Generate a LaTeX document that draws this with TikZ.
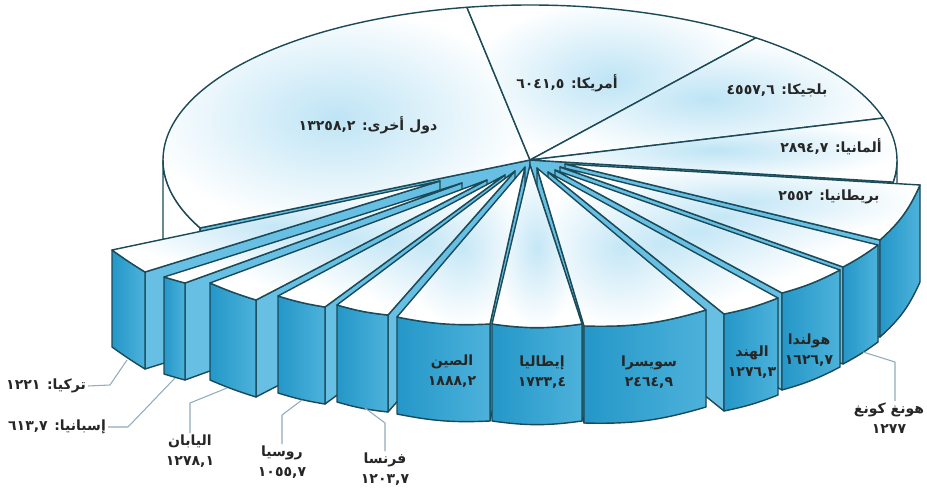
\documentclass[tikz,border=0pt]{standalone}
\usepackage{fontspec}
\usetikzlibrary{calc}
\TeXXeTstate=1
\newfontfamily\arabicfont[Script=Arabic]{DejaVu Sans}
\definecolor{edgeline}{HTML}{1B4A58}
\definecolor{facedark}{HTML}{2497C8}
\definecolor{facelight}{HTML}{4DB2DB}
\definecolor{sideblue}{HTML}{67BFE3}
\definecolor{topblue}{HTML}{BEE4F5}
\definecolor{leadgray}{HTML}{93ABBA}

\newcommand\slh{97}
% wedges on the left show their right radial face
\newcommand\wedgeleft[4]{%
  \filldraw[sideface] (#3) -- (#1) -- ($(#1)+(0,\slh)$) -- ($(#3)+(0,\slh)$) -- cycle;
  \filldraw[outface] (#2) to[bend right=#4] (#3) -- ($(#3)+(0,\slh)$) to[bend left=#4] ($(#2)+(0,\slh)$) -- cycle;
  \filldraw[topface] (#1) -- (#2) to[bend right=#4] (#3) -- cycle;
}
% wedges on the right show their left radial face
\newcommand\wedgeright[4]{%
  \filldraw[sideface] (#2) -- (#1) -- ($(#1)+(0,\slh)$) -- ($(#2)+(0,\slh)$) -- cycle;
  \filldraw[outface] (#2) to[bend right=#4] (#3) -- ($(#3)+(0,\slh)$) to[bend left=#4] ($(#2)+(0,\slh)$) -- cycle;
  \filldraw[topface] (#1) -- (#2) to[bend right=#4] (#3) -- cycle;
}

\begin{document}
\begin{tikzpicture}[
    x=0.02cm,y=-0.02cm,line join=round,
    edges/.style={draw=edgeline,line width=.8pt},
    backtop/.style={edges,inner color=topblue,outer color=white},
    backwall/.style={edges,fill=white},
    sideface/.style={edges,fill=sideblue},
    outface/.style={edges,left color=facedark,right color=facelight},
    topface/.style={edges,inner color=topblue!90,outer color=white},
    lab/.style={font=\arabicfont\bfseries\fontsize{8}{11.5}\selectfont,text=black!85,inner sep=1pt,align=center},
    lead/.style={draw=leadgray,line width=.6pt}
    ]
    \fill[white] (0,0) rectangle (927,493);
    \useasboundingbox (0,0) rectangle (927,493);
    \coordinate (O) at (530,160);
    % back part of the pie
    \filldraw[backwall] ([shift={(O)}]180:367 and 155) arc[start angle=180,end angle=154,x radius=367,y radius=155]
        -- ++(0,\slh) arc[start angle=154,end angle=180,x radius=367,y radius=155] -- cycle;
    \filldraw[backwall] ([shift={(O)}]0:367 and 155) arc[start angle=0,end angle=8.2,x radius=367,y radius=155]
        -- ++(0,\slh) arc[start angle=8.2,end angle=0,x radius=367,y radius=155] -- cycle;
    \filldraw[sideface] (O) -- ([shift={(O)}]154:367 and 155) -- ++(0,\slh) -- ($(O)+(0,\slh)$) -- cycle;
    \filldraw[sideface] (O) -- ([shift={(O)}]8.2:367 and 155) -- ++(0,\slh) -- ($(O)+(0,\slh)$) -- cycle;
    \foreach \a/\b in {-206/-99.9,-99.9/-52,-52/-15.7,-15.7/8.2}
      \filldraw[backtop] (O) -- ([shift={(O)}]\a:367 and 155)
        arc[start angle=\a,end angle=\b,x radius=367,y radius=155] -- cycle;
    % front wedges, back to front
    \wedgeleft{440,181}{112,250}{145,272}{2}
    \wedgeleft{462,183}{164,277}{185,283}{1}
    \wedgeleft{487,180}{210,283}{256,300}{3}
    \wedgeleft{505,175}{278,296}{325,307}{4}
    \wedgeleft{515,171}{337,305}{388,315}{5}
    \wedgeleft{525,167}{397,317}{490,324}{7}
    \wedgeright{565,164}{880,240}{920,185}{12}
    \wedgeright{560,167}{843,267}{878,245}{4}
    \wedgeright{555,170}{782,293}{840,270}{6}
    \wedgeright{548,172}{724,314}{778,298}{5}
    \wedgeright{537,168}{584,326}{706,310}{9}
    \wedgeleft{530,165}{492,324}{582,324}{8}
    % labels on the pie
    \node[lab] (lOther) at (368,125) {\beginR دول أخرى: ١٣٢٥٨,٢\endR};
    \node[lab] (lUSA) at (567,83) {\beginR أمريكا: ٦٠٤١,٥\endR};
    \node[lab] (lBel) at (777,90) {\beginR بلجيكا: ٤٥٥٧,٦\endR};
    \node[lab] (lGer) at (831,147) {\beginR ألمانيا: ٢٨٩٤,٧\endR};
    \node[lab] (lBri) at (829,197) {\beginR بريطانيا: ٢٥٥٢\endR};
    \node[lab] (lChn) at (452,371) {\beginR الصين\endR\\١٨٨٨,٢};
    \node[lab] (lIta) at (542,372) {\beginR إيطاليا\endR\\١٧٣٣,٤};
    \node[lab] (lSui) at (649,372) {\beginR سويسرا\endR\\٢٤٦٤,٩};
    \node[lab] (lInd) at (752,362) {\beginR الهند\endR\\١٢٧٦,٣};
    \node[lab] (lNed) at (809,350) {\beginR هولندا\endR\\١٦٢٦,٧};
    % labels outside
    \node[lab,anchor=east] (lTur) at (88,386) {\beginR تركيا: ١٢٢١\endR};
    \node[lab,anchor=east] (lEsp) at (108,427) {\beginR إسبانيا: ٦١٣,٧\endR};
    \node[lab,anchor=north] (lJap) at (190,433) {\beginR اليابان\endR\\١٢٧٨,١};
    \node[lab,anchor=north] (lRus) at (282,444) {\beginR روسيا\endR\\١٠٥٥,٧};
    \node[lab,anchor=north] (lFra) at (385,451) {\beginR فرنسا\endR\\١٢٠٣,٧};
    \node[lab,anchor=north] (lHK) at (889,401) {\beginR هونغ كونغ\endR\\١٢٧٧};
    \coordinate (aTur) at (127,360);
    \coordinate (aEsp) at (175,378);
    \coordinate (aJap) at (227,388);
    \coordinate (aRus) at (302,400);
    \coordinate (aFra) at (365,408);
    \coordinate (aHK) at (863,352);
    \coordinate (kHK) at (895,362);
    \draw[lead] (aTur) -- ++(-17,25) -- (lTur.east);
    \draw[lead] (aEsp) -- ++(-47,49) -- (lEsp.east);
    \draw[lead] (aJap) -- ++(-37,15) -- (lJap.north);
    \draw[lead] (aRus) -- ++(-20,15) -- (lRus.north);
    \draw[lead] (aFra) -- ++(20,15) -- (lFra.north);
    \draw[lead] (aHK) -- (kHK) -- (kHK |- lHK.north);
  \end{tikzpicture}
\end{document}
